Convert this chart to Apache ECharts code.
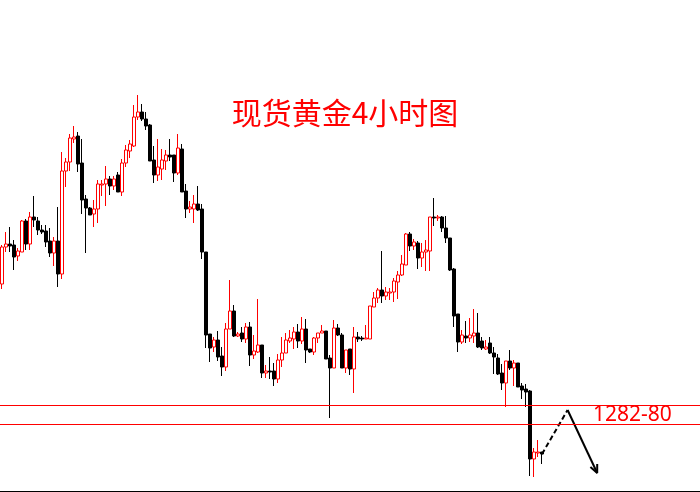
<!DOCTYPE html>
<html><head><meta charset="utf-8">
<script src="https://cdn.jsdelivr.net/npm/echarts@6/dist/echarts.min.js"></script>
<style>html,body{margin:0;padding:0;background:#fff}#c{width:700px;height:492px}</style>
</head><body><div id="c"></div>
<script>
const opens=[1294.1,1297.8,1298.1,1298.0,1296.9,1297.3,1300.4,1298.1,1300.8,1300.4,
1299.5,1299.4,1298.4,1297.2,1298.4,1295.1,1305.4,1306.3,1308.6,1308.9,
1306.2,1302.6,1301.7,1301.1,1301.6,1304.0,1304.1,1304.6,1303.9,1305.0,
1303.3,1306.2,1307.4,1307.9,1310.8,1311.3,1310.6,1310.0,1306.5,1305.0,
1305.6,1306.4,1307.0,1307.0,1305.2,1307.6,1303.4,1301.6,1301.6,1302.1,
1301.6,1297.3,1289.1,1287.8,1288.5,1286.9,1285.8,1289.6,1291.4,1288.9,
1289.2,1288.6,1289.8,1287.0,1287.3,1288.0,1285.2,1285.4,1285.4,1284.6,
1286.5,1287.2,1288.4,1288.6,1289.3,1288.4,1289.6,1287.6,1287.3,1288.7,
1289.2,1289.4,1286.7,1285.7,1289.7,1289.0,1285.7,1287.6,1285.6,1288.8,
1288.7,1288.6,1288.6,1291.8,1292.7,1293.5,1292.9,1293.2,1293.3,1294.3,
1295.0,1296.0,1299.1,1297.9,1298.2,1296.7,1297.3,1297.4,1300.8,1300.7,
1300.8,1299.7,1298.7,1295.6,1291.1,1288.3,1288.9,1288.7,1288.9,1289.2,
1288.4,1287.6,1288.2,1287.2,1286.7,1285.2,1284.2,1286.4,1285.7,1286.2,
1283.9,1283.6,1283.4,1276.6,1277.2,1277.3];
const closes=[1297.8,1298.1,1297.9,1296.8,1297.4,1300.4,1298.1,1300.8,1300.5,1299.5,
1299.3,1298.3,1297.2,1298.4,1295.1,1305.4,1306.3,1308.7,1308.8,1306.1,
1302.5,1301.7,1301.0,1301.6,1304.1,1304.1,1304.6,1303.9,1304.6,1303.3,
1306.2,1307.5,1308.1,1310.8,1311.3,1310.6,1309.9,1306.4,1305.0,1305.8,
1306.5,1307.0,1306.8,1305.2,1307.7,1303.3,1301.6,1301.8,1302.1,1301.5,
1297.3,1289.0,1287.7,1288.5,1286.8,1285.8,1289.6,1291.4,1288.9,1289.1,
1288.6,1289.8,1287.0,1287.4,1288.0,1285.2,1285.4,1285.3,1284.6,1286.5,
1287.2,1288.5,1288.7,1289.3,1288.4,1289.6,1287.5,1287.3,1288.7,1289.2,
1289.4,1286.6,1285.7,1289.7,1289.0,1285.7,1287.5,1285.6,1288.8,1288.6,
1288.6,1288.7,1291.9,1292.7,1293.5,1292.9,1293.3,1293.3,1294.4,1295.0,
1296.1,1299.1,1297.9,1298.3,1296.7,1297.3,1297.5,1300.8,1300.7,1300.8,
1299.7,1298.7,1295.5,1290.9,1288.3,1289.0,1288.7,1289.0,1289.2,1287.8,
1287.7,1287.8,1287.2,1286.8,1285.1,1284.2,1286.4,1285.7,1286.2,1283.8,
1283.5,1283.3,1276.6,1277.3,1277.3,1277.1];
const lows=[1293.6,1297.3,1297.3,1295.5,1296.4,1297.3,1297.5,1297.5,1299.8,1299.0,
1299.1,1297.8,1296.8,1295.9,1293.8,1294.6,1303.8,1305.4,1308.2,1305.3,
1301.1,1297.2,1301.0,1299.8,1300.2,1302.9,1301.9,1303.0,1303.5,1303.3,
1302.9,1305.8,1306.7,1307.8,1310.5,1310.4,1309.5,1306.4,1304.2,1304.4,
1304.5,1305.5,1306.4,1304.3,1305.0,1303.3,1300.7,1301.2,1300.2,1301.4,
1296.6,1287.7,1286.3,1287.3,1286.4,1284.9,1285.4,1289.6,1288.8,1288.8,
1288.3,1288.2,1285.9,1286.6,1287.2,1284.7,1284.7,1284.6,1283.9,1284.2,
1285.8,1287.2,1288.2,1287.6,1287.7,1288.1,1286.2,1287.2,1287.0,1288.2,
1289.2,1286.6,1280.7,1285.7,1288.9,1285.7,1285.2,1285.0,1283.2,1288.3,
1288.4,1288.6,1288.6,1291.8,1292.2,1292.2,1292.5,1292.5,1292.3,1292.6,
1294.9,1296.0,1297.4,1297.5,1295.6,1295.8,1295.4,1295.4,1299.9,1300.4,
1299.3,1298.2,1295.4,1289.8,1287.3,1288.1,1288.2,1288.3,1288.2,1287.7,
1287.5,1287.5,1287.1,1285.1,1285.0,1283.5,1281.8,1285.5,1283.9,1283.8,
1282.6,1281.8,1274.9,1274.8,1276.8,1276.1];
const highs=[1298.0,1299.3,1299.8,1298.5,1297.7,1300.5,1300.6,1301.3,1302.9,1300.8,
1300.0,1300.0,1299.7,1298.8,1301.8,1307.3,1306.7,1309.1,1309.9,1309.3,
1308.6,1303.0,1301.8,1302.5,1304.5,1304.5,1305.9,1304.9,1304.9,1305.3,
1306.6,1308.0,1308.5,1312.0,1313.0,1312.1,1311.3,1310.1,1307.9,1308.6,
1307.6,1307.5,1308.6,1307.0,1309.1,1308.1,1304.1,1302.4,1303.0,1303.9,
1302.1,1297.3,1289.1,1288.8,1289.4,1287.8,1290.2,1294.5,1292.0,1289.3,
1289.8,1290.2,1290.3,1289.0,1292.6,1288.0,1286.0,1286.8,1286.2,1287.1,
1288.8,1289.2,1289.5,1289.8,1290.1,1290.8,1290.6,1287.6,1288.8,1289.2,
1290.0,1289.4,1287.0,1290.5,1290.1,1289.2,1287.5,1287.6,1289.8,1289.3,
1288.9,1290.0,1291.9,1293.3,1293.7,1297.4,1293.8,1293.7,1294.7,1295.4,
1297.0,1299.2,1299.3,1298.6,1298.4,1298.2,1298.5,1300.8,1302.7,1301.0,
1300.9,1300.9,1298.7,1295.7,1291.1,1289.5,1290.4,1290.7,1291.6,1291.2,
1288.8,1288.5,1288.8,1287.8,1287.1,1286.1,1286.4,1287.5,1286.5,1286.2,
1284.2,1284.1,1283.5,1277.7,1278.5,1277.3];
const levelLines=[1282.0,1280.1];
const levelLabel='1282-80';
const titleText='现货黄金4小时图';
const projDashed=[[135,1277.1],[141.4,1281.5]];
const projSolid=[[141.4,1281.5],[148.8,1275.2]];
const projHead=[[147.1,1275.8],[148.8,1275.2],[148.8,1276.1]];
const slotCount=175;
const categories=[];
for(let i=0;i<slotCount;i++) categories.push(String(i+1));
const ohlc=opens.map((o,i)=>[o,closes[i],lows[i],highs[i]]);

const chart=echarts.init(document.getElementById('c'),null,{renderer:'canvas'});
chart.setOption({
  animation:false,
  backgroundColor:'#ffffff',
  grid:{left:0,right:0,top:0,bottom:1,containLabel:false},
  xAxis:[
    {type:'category',data:categories,boundaryGap:true,
     axisLine:{show:true,onZero:false,lineStyle:{color:'#000',width:1}},
     axisTick:{show:false},axisLabel:{show:false},splitLine:{show:false}},
    {type:'value',min:-0.5,max:slotCount-0.5,show:false,splitLine:{show:false}}
  ],
  yAxis:{type:'value',min:1273.4,max:1322.5,show:false,splitLine:{show:false}},
  series:[
    {type:'candlestick',xAxisIndex:0,data:ohlc,barWidth:3,
     itemStyle:{color:'#ffffff',color0:'#000000',borderColor:'#ff0000',borderColor0:'#000000',borderWidth:1},
     markLine:{silent:true,symbol:['none','none'],label:{show:false},
       lineStyle:{color:'#ff0000',width:1,type:'solid'},
       data:levelLines.map(v=>({yAxis:v}))}},
    {type:'line',xAxisIndex:1,data:projDashed,symbol:'none',silent:true,
     lineStyle:{color:'#000',width:2,type:[5,3]}},
    {type:'line',xAxisIndex:1,data:projSolid,symbol:'none',silent:true,
     lineStyle:{color:'#000',width:2}},
    {type:'line',xAxisIndex:1,data:projHead,symbol:'none',silent:true,
     lineStyle:{color:'#000',width:2}}
  ],
  graphic:[
    {type:'text',x:345,y:113,style:{text:titleText,fill:'#ff0000',
      font:'30px "Noto Sans CJK SC"',textAlign:'center',textVerticalAlign:'middle'}},
    {type:'text',x:593,y:415,style:{text:levelLabel,fill:'#ff0000',
      font:'21px "Noto Sans"',textAlign:'left',textVerticalAlign:'middle'}}
  ]
});
</script></body></html>
